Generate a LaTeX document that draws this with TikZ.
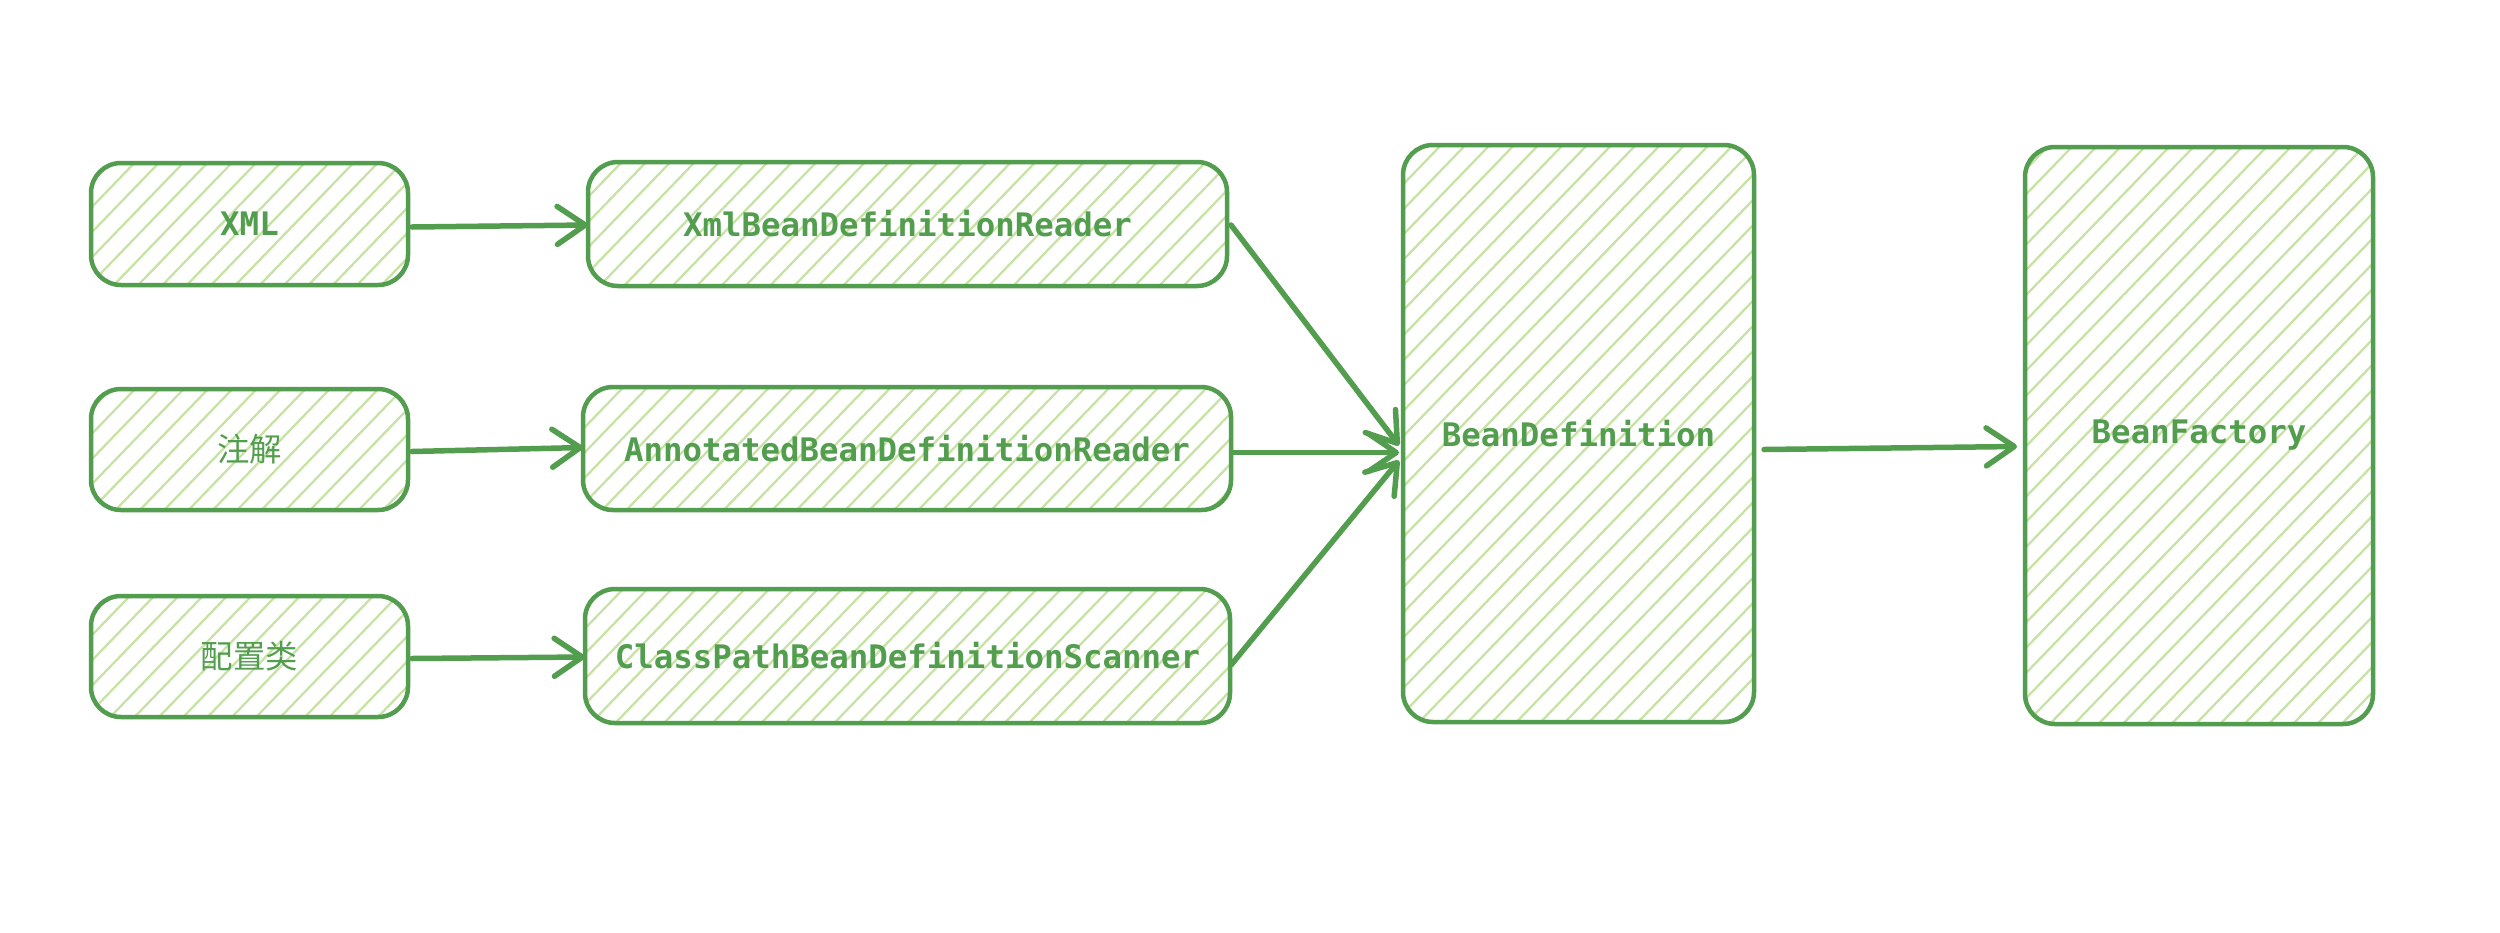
\documentclass[tikz,border=0pt]{standalone}
\usepackage{fontspec}
\setmonofont{DejaVu Sans Mono}
\newfontfamily\cjk{Noto Sans CJK SC}
\usetikzlibrary{arrows.meta,patterns.meta}
\definecolor{stroke}{HTML}{529D4E}
\definecolor{hatch}{HTML}{C7E2A5}
\begin{document}
\begin{tikzpicture}[x=1pt,y=-1pt,
  box/.style={draw=stroke, line width=4.5pt, rounded corners=30pt,
    pattern={Lines[angle=46,distance=17.5pt,line width=2.3pt]}, pattern color=hatch,
    inner sep=0pt, outer sep=0pt, text=stroke,
    font=\ttfamily\bfseries\fontsize{32.4}{38}\selectfont},
  conn/.style={draw=stroke, line width=5.5pt, line cap=round,
    -{Straight Barb[length=28pt,width=38pt,round]}}]
\fill[white] (0,0) rectangle (2500,932);
\useasboundingbox (0,0) rectangle (2500,932);

\node[box, minimum width=317pt, minimum height=122pt] (xml) at (249.5,224) {XML};
\node[box, minimum width=639pt, minimum height=124pt] (xmlr) at (907.5,224) {XmlBeanDefinitionReader};
\node[box, minimum width=317pt, minimum height=121pt] (zj) at (249.5,449.5) {\cjk\mdseries 注解};
\node[box, minimum width=648pt, minimum height=123pt] (abdr) at (907,448.5) {AnnotatedBeanDefinitionReader};
\node[box, minimum width=317pt, minimum height=121pt] (pz) at (249.5,656.5) {\cjk\mdseries 配置类};
\node[box, minimum width=645pt, minimum height=134pt] (cp) at (907.5,656) {ClassPathBeanDefinitionScanner};
\node[box, minimum width=351pt, minimum height=577pt] (bd) at (1578.5,433.5) {BeanDefinition};
\node[box, minimum width=348pt, minimum height=577pt] (bf) at (2199,435.5) {BeanFactory};

\draw[conn] ([shift={(4,3)}]xml.east) -- ([shift={(0,1)}]xmlr.west);
\draw[conn] ([shift={(4,2)}]zj.east) -- ([shift={(0,-1)}]abdr.west);
\draw[conn] ([shift={(4,2)}]pz.east) -- ([shift={(0,1)}]cp.west);
\draw[conn] ([shift={(4,1)}]xmlr.east) -- ([shift={(-4,12)}]bd.west);
\draw[conn] ([shift={(1,4)}]abdr.east) -- ([shift={(-4,19)}]bd.west);
\draw[conn] ([shift={(1,9)}]cp.east) -- ([shift={(-4,27)}]bd.west);
\draw[conn] ([shift={(10,16)}]bd.east) -- ([shift={(-8,11)}]bf.west);
\end{tikzpicture}
\end{document}
